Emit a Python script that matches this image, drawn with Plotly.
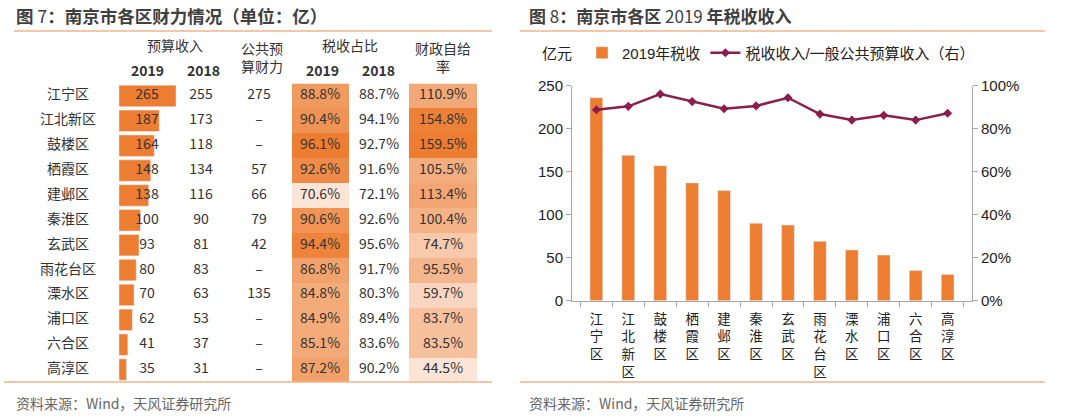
import plotly.graph_objects as go

# ---- data ----
districts = ['江宁区', '江北新区', '鼓楼区', '栖霞区', '建邺区', '秦淮区',
             '玄武区', '雨花台区', '溧水区', '浦口区', '六合区', '高淳区']
budget_2019 = [265, 187, 164, 148, 138, 100, 93, 80, 70, 62, 41, 35]
budget_2018 = [255, 173, 118, 134, 116, 90, 81, 83, 63, 53, 37, 31]
public_fund = [275, None, None, 57, 66, 79, 42, None, 135, None, None, None]
tax_share_2019 = [88.8, 90.4, 96.1, 92.6, 70.6, 90.6, 94.4, 86.8, 84.8, 84.9, 85.1, 87.2]
tax_share_2018 = [88.7, 94.1, 92.7, 91.6, 72.1, 92.6, 95.6, 91.7, 80.3, 89.4, 83.6, 90.2]
self_suff = [110.9, 154.8, 159.5, 105.5, 113.4, 100.4, 74.7, 95.5, 59.7, 83.7, 83.5, 44.5]

tax_2019 = [236, 169, 157, 137, 128, 90, 88, 69, 59, 53, 35, 30.5]
tax_ratio = [0.888, 0.904, 0.961, 0.926, 0.893, 0.906, 0.944, 0.868, 0.840, 0.862, 0.840, 0.872]

W, H = 1080, 417
fx = lambda px: px / W
fy = lambda py: 1 - py / H

ORANGE = '#ED7D31'
LINE = '#8C1D4F'
TXT = '#333333'
CJK = 'Noto Sans CJK SC'
SANS = 'Liberation Sans, Noto Sans CJK SC'
heat_scale = [[0, '#FCE4D6'], [1, ORANGE]]

fig = go.Figure()

# ---- right chart: tax revenue ----
xlabels = ['<br>'.join(d) for d in districts]
fig.add_trace(go.Bar(x=xlabels, y=tax_2019, name='2019年税收', width=0.4,
                     marker_color=ORANGE, xaxis='x', yaxis='y'))
fig.add_trace(go.Scatter(x=xlabels, y=tax_ratio, name='税收收入/一般公共预算收入（右）',
                         mode='lines+markers', line=dict(color=LINE, width=2.5),
                         marker=dict(symbol='diamond', size=7, color=LINE),
                         xaxis='x', yaxis='y2'))

# ---- left table ----
ycat = dict(type='category', categoryorder='array', categoryarray=districts,
            range=[len(districts) - 0.5, -0.5], domain=[fy(382), fy(83.5)],
            visible=False, anchor='x3')

fig.add_trace(go.Bar(y=districts, x=budget_2019, orientation='h', marker_color=ORANGE,
                     width=0.86, showlegend=False, hoverinfo='skip', xaxis='x3', yaxis='y3'))
fig.add_trace(go.Heatmap(x=[0], y=districts, z=[[v] for v in tax_share_2019],
                         colorscale=heat_scale, showscale=False, hoverinfo='skip',
                         xaxis='x4', yaxis='y3'))
fig.add_trace(go.Heatmap(x=[0], y=districts, z=[[v] for v in self_suff],
                         colorscale=heat_scale, showscale=False, hoverinfo='skip',
                         xaxis='x5', yaxis='y3'))

cols = [
    (68, districts),
    (147, [str(v) for v in budget_2019]),
    (201, [str(v) for v in budget_2018]),
    (259, [str(v) if v is not None else '–' for v in public_fund]),
    (320, [f'{v:.1f}%' for v in tax_share_2019]),
    (379, [f'{v:.1f}%' for v in tax_share_2018]),
    (443, [f'{v:.1f}%' for v in self_suff]),
]
for cx, txt in cols:
    fig.add_trace(go.Scatter(x=[cx] * len(districts), y=districts, text=txt, mode='text',
                             textfont=dict(size=14, color=TXT, family=CJK),
                             showlegend=False, hoverinfo='skip', xaxis='x6', yaxis='y3'))

hidden = dict(visible=False, fixedrange=True, automargin=False)
axis_col = '#A6A6A6'
fig.update_layout(
    width=W, height=H, margin=dict(l=0, r=0, t=0, b=0, autoexpand=False),
    paper_bgcolor='white', plot_bgcolor='rgba(0,0,0,0)',
    font=dict(family=SANS, color=TXT, size=14),
    xaxis=dict(domain=[fx(572), fx(972)], anchor='y', showline=True, linecolor=axis_col,
               ticks='outside', tickson='boundaries', ticklen=5, tickcolor=axis_col,
               tickfont=dict(size=13.5, color='#222', family=SANS), showgrid=False,
               ticklabelstandoff=6, automargin=False),
    yaxis=dict(domain=[fy(300.7), fy(85.7)], range=[0, 250], dtick=50, anchor='x',
               showline=True, linecolor=axis_col, ticks='outside', ticklen=5,
               tickcolor=axis_col, showgrid=False, zeroline=False, automargin=False,
               tickfont=dict(size=15, color='#222')),
    yaxis2=dict(overlaying='y', side='right', range=[0, 1], dtick=0.2, tickformat='.0%',
                anchor='x', showline=True, linecolor=axis_col, ticks='outside', ticklen=5,
                tickcolor=axis_col, showgrid=False, zeroline=False, automargin=False,
                tickfont=dict(size=15, color='#222')),
    yaxis3=ycat,
    xaxis3=dict(domain=[fx(119), fx(176)], range=[0, 265], anchor='y3', **hidden),
    xaxis4=dict(domain=[fx(292), fx(349)], range=[-0.5, 0.5], anchor='y3', **hidden),
    xaxis5=dict(domain=[fx(409), fx(477)], range=[-0.5, 0.5], anchor='y3', **hidden),
    xaxis6=dict(domain=[0, fx(492)], range=[0, 492], anchor='y3', **hidden),
    legend=dict(orientation='h', x=fx(582), y=fy(53), xanchor='left', yanchor='middle',
                font=dict(size=15, color='#222', family=SANS), bgcolor='rgba(0,0,0,0)',
                itemwidth=30),
    showlegend=True,
)

ann = []
def note(text, px, py, size=14, xanchor='center', bold=False, color=TXT, family=CJK):
    ann.append(dict(text=f'<b>{text}</b>' if bold else text, x=fx(px), y=fy(py),
                    xref='paper', yref='paper', xanchor=xanchor, yanchor='middle',
                    showarrow=False, font=dict(size=size, color=color, family=family)))

note('<b>图</b> 7<b>：南京市各区财力情况（单位：亿）</b>', 14, 15, size=17.5,
     xanchor='left', color='#404040')
note('<b>图</b> 8<b>：南京市各区</b> 2019 <b>年税收收入</b>', 527, 15, size=17,
     xanchor='left', color='#404040')
note('资料来源：Wind，天风证券研究所', 14, 403, size=14, xanchor='left', color='#666')
note('资料来源：Wind，天风证券研究所', 527, 403, size=14, xanchor='left', color='#666')

note('预算收入', 175, 45)
note('2019', 147, 70, bold=True)
note('2018', 203, 70, bold=True)
note('公共预<br>算财力', 262, 57)
note('税收占比', 350, 45)
note('2019', 322, 70, bold=True)
note('2018', 378, 70, bold=True)
note('财政自给<br>率', 443, 57)
note('亿元', 557, 53, size=15, color='#222')
fig.update_layout(annotations=ann)

rule = '#F2B48A'
for x0, x1, y in [(14, 492, 31), (4, 492, 382), (520, 1045, 31), (520, 1045, 382)]:
    fig.add_shape(type='line', xref='paper', yref='paper', x0=fx(x0), x1=fx(x1),
                  y0=fy(y), y1=fy(y), line=dict(color=rule, width=1.5))

# page body margin would push the fixed-size figure off the window
fig.write_html("out.html", config={'displayModeBar': False},
               post_script="document.body.style.margin='0';")
